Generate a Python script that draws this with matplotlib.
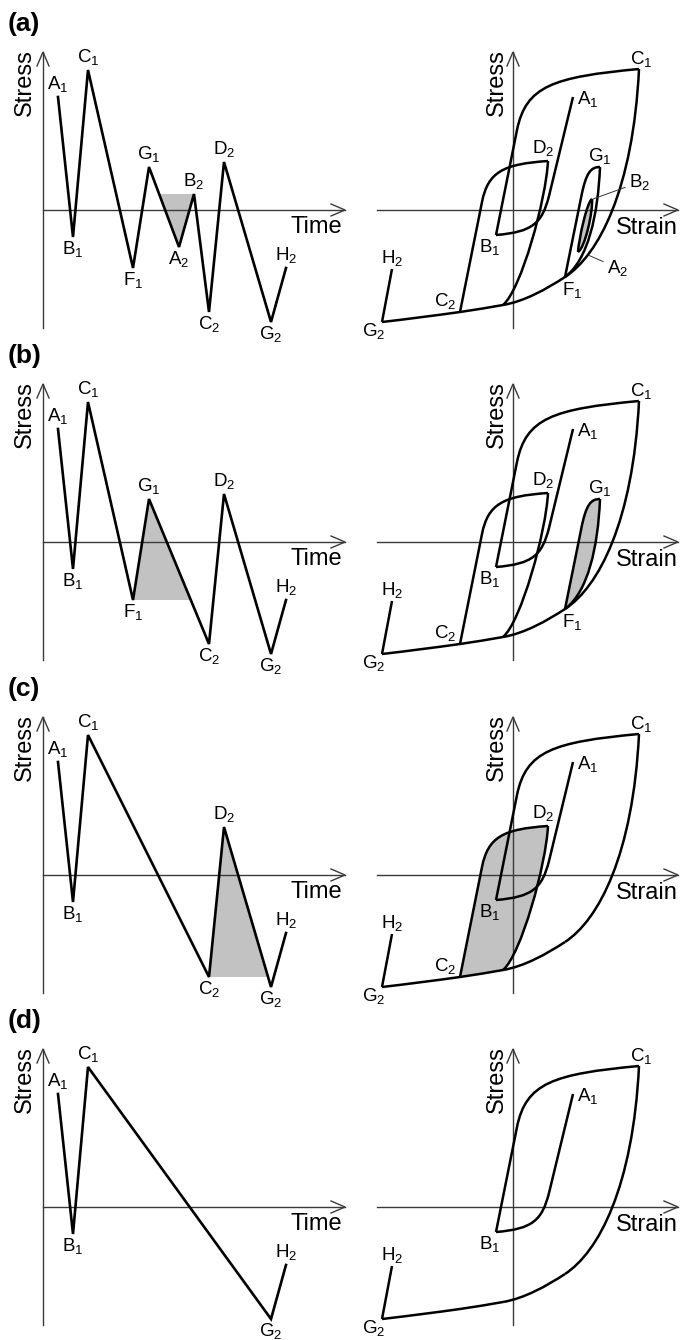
import numpy as np
import matplotlib.pyplot as plt
from matplotlib.path import Path
from matplotlib.patches import PathPatch, Polygon

plt.rcParams['font.family'] = 'Liberation Sans'
plt.rcParams['mathtext.fontset'] = 'custom'
plt.rcParams['mathtext.rm'] = 'Liberation Sans'
plt.rcParams['mathtext.it'] = 'Liberation Sans:italic'
plt.rcParams['mathtext.bf'] = 'Liberation Sans:bold'

# --- stress history: turning points (time, stress) in sketch units ---
point_names = ['A1', 'B1', 'C1', 'F1', 'G1', 'A2', 'B2', 'C2', 'D2', 'G2', 'H2']
point_time = [15, 30, 45, 90, 106, 136, 151, 166, 181, 228, 243]
point_stress = [113, -27, 140, -58, 43, -37, 16, -102, 48, -112, -58]

# turning points left in each step of the counting
seq_a = point_names
seq_b = ['A1', 'B1', 'C1', 'F1', 'G1', 'C2', 'D2', 'G2', 'H2']
seq_c = ['A1', 'B1', 'C1', 'C2', 'D2', 'G2', 'H2']
seq_d = ['A1', 'B1', 'C1', 'G2', 'H2']

# --- stress-strain plane: turning points (strain, stress) ---
hyst_names = ['A1', 'B1', 'C1', 'F1', 'G1', 'A2', 'B2', 'C2', 'D2', 'G2', 'H2']
hyst_strain = [60, -17, 126, 52, 87, 65, 79, -53, 35, -131, -121]
hyst_stress = [113, -25, 141, -67, 43, -42, 11, -102, 49, -112, -59]

# branches of the loops as bezier control points (strain, stress)
br_A1B1 = [(60, 113), (36, 14), (29, -13), (20, -22), (-17, -25)]
br_B1C1 = [(-17, -25), (4, 80), (13, 124), (40, 133), (126, 141)]
br_C1F1 = [(126, 141), (120, 20), (85.6, -45), (52, -67)]
br_F1M = [(52, -67), (33.5, -79), (11.7, -91.3), (-10, -95)]
br_MC2 = [(-10, -95), (-24, -97.4), (-39, -100), (-53, -102)]
br_C2G2 = [(-53, -102), (-78, -105.5), (-105, -109), (-131, -112)]
br_G2H2 = [(-131, -112), (-121, -59)]
br_F1G1 = [(52, -67), (68, 12), (73, 38), (78, 43), (87, 43)]
br_G1F1 = [(87, 43), (85, -5), (75, -50), (52, -67)]
br_A2B2 = [(65, -42), (66, -28), (74, 8), (79, 11)]
br_B2A2 = [(79, 11), (80, -2), (72, -38), (65, -42)]
br_C2D2 = [(-53, -102), (-31, 8), (-25, 38), (-10, 46), (35, 49)]
br_D2M = [(35, 49), (33, 10), (8, -80), (-10, -95)]

branches = {
    'A1B1': (br_A1B1, 'MLCCC'), 'B1C1': (br_B1C1, 'MLCCC'),
    'C1F1': (br_C1F1, 'MCCC'), 'F1M': (br_F1M, 'MCCC'),
    'MC2': (br_MC2, 'MCCC'), 'C2G2': (br_C2G2, 'MCCC'),
    'G2H2': (br_G2H2, 'ML'), 'F1G1': (br_F1G1, 'MLCCC'),
    'G1F1': (br_G1F1, 'MCCC'), 'A2B2': (br_A2B2, 'MCCC'),
    'B2A2': (br_B2A2, 'MCCC'), 'C2D2': (br_C2D2, 'MLCCC'),
    'D2M': (br_D2M, 'MCCC'),
}
outer = ['A1B1', 'B1C1', 'C1F1', 'F1M', 'MC2', 'C2G2', 'G2H2']
hyst_rows = [
    outer + ['F1G1', 'G1F1', 'A2B2', 'B2A2', 'C2D2', 'D2M'],
    outer + ['F1G1', 'G1F1', 'C2D2', 'D2M'],
    outer + ['C2D2', 'D2M'],
    outer,
]
hyst_shade = [['A2B2', 'B2A2'], ['F1G1', 'G1F1'], ['C2D2', 'D2M', 'MC2'], []]
hyst_labels = [
    hyst_names,
    ['A1', 'B1', 'C1', 'F1', 'G1', 'C2', 'D2', 'G2', 'H2'],
    ['A1', 'B1', 'C1', 'C2', 'D2', 'G2', 'H2'],
    ['A1', 'B1', 'C1', 'G2', 'H2'],
]
# shaded half cycles on the time plots: (polygon, cut segment start, end, level)
time_shade = [
    (['cut', 'A2', 'B2'], ('G1', 'A2', 'B2')),
    (['F1', 'G1', 'cut'], ('G1', 'C2', 'F1')),
    (['C2', 'D2', 'cut'], ('D2', 'G2', 'C2')),
    None,
]

hyst_label_off = {'C1': (2, 10), 'A1': (15, -2), 'D2': (-5, 13), 'G1': (0, 11),
                  'B2': (48, 17), 'A2': (40, -16), 'B1': (-6, -12), 'F1': (7, -13),
                  'C2': (-15, 11), 'H2': (0, 11), 'G2': (-8, -9)}

W, H = 681, 1340
fig = plt.figure(figsize=(W / 100, H / 100), dpi=100)
row_y = [210, 542, 875, 1207]
left_x, right_x = 43, 513
letters = ['(a)', '(b)', '(c)', '(d)']
seqs = [seq_a, seq_b, seq_c, seq_d]
shade_col = '#c2c2c2'
axis_col = '#3a3a3a'
lab_fs = 13.5

tp = dict(zip(point_names, zip(point_time, point_stress)))
hp = dict(zip(hyst_names, zip(hyst_strain, hyst_stress)))


def sub(name):
    return r'$\mathregular{%s_%s}$' % (name[0], name[1])


def panel_axes(ox, oy, xl, xr, yb, yt):
    ax = fig.add_axes([(ox + xl) / W, (H - oy + yb) / H, (xr - xl) / W, (yt - yb) / H])
    ax.set_xlim(xl, xr)
    ax.set_ylim(yb, yt)
    ax.axis('off')
    return ax


def arrow_axis(ax, x0, y0, x1, y1, L=14, hw=6):
    ax.plot([x0, x1], [y0, y1], color=axis_col, lw=1.0, clip_on=False)
    d = np.array([x1 - x0, y1 - y0], float)
    d /= np.hypot(*d)
    n = np.array([-d[1], d[0]])
    tip = np.array([x1, y1])
    a = tip - L * d + hw * n
    b = tip - L * d - hw * n
    ax.plot([a[0], tip[0], b[0]], [a[1], tip[1], b[1]], color=axis_col, lw=1.0,
            clip_on=False, solid_joinstyle='miter')


def branch_path(keys, close=False):
    verts, codes = [], []
    for i, k in enumerate(keys):
        pts, cs = branches[k]
        for j, (p, c) in enumerate(zip(pts, cs)):
            if j == 0 and i > 0:
                continue
            verts.append(p)
            codes.append({'M': Path.MOVETO, 'L': Path.LINETO, 'C': Path.CURVE4}[c])
    if close:
        verts.append(verts[0])
        codes.append(Path.CLOSEPOLY)
    return Path(verts, codes)


for r in range(4):
    oy = row_y[r]
    seq = seqs[r]

    # ---------- stress vs time ----------
    ax = panel_axes(left_x, oy, -43, 310, -130, 192)
    arrow_axis(ax, 0, -118, 0, 158)
    arrow_axis(ax, 0, 0, 302, 0)
    ax.text(-18, 127, 'Stress', rotation=90, fontsize=17, ha='center', va='center')
    ax.text(273, -17, 'Time', fontsize=17, ha='center', va='center')
    ax.text(-35, 186, letters[r], fontsize=19, fontweight='bold', ha='left', va='center')

    ts = [tp[n][0] for n in seq]
    ss = [tp[n][1] for n in seq]
    if time_shade[r] is not None:
        poly_names, (u, v, w) = time_shade[r]
        lev = tp[w][1]
        su, sv = tp[u][1], tp[v][1]
        tcut = tp[u][0] + (tp[v][0] - tp[u][0]) * (lev - su) / (sv - su)
        poly = [(tcut, lev) if n == 'cut' else tp[n] for n in poly_names]
        ax.add_patch(Polygon(poly, closed=True, facecolor=shade_col, edgecolor='none', zorder=1))
    ax.plot(ts, ss, color='k', lw=1.9, solid_joinstyle='miter', zorder=3, clip_on=False)

    for i, n in enumerate(seq):
        s = ss[i]
        nb = ss[i + 1] if i == 0 else ss[i - 1]
        dy = 13 if s > nb else -12
        ax.text(ts[i], s + dy, sub(n), fontsize=lab_fs, ha='center', va='center')

    # ---------- stress vs strain ----------
    ax = panel_axes(right_x, oy, -150, 168, -130, 192)
    arrow_axis(ax, 0, -118, 0, 158)
    arrow_axis(ax, -136, 0, 165, 0)
    ax.text(-16, 127, 'Stress', rotation=90, fontsize=17, ha='center', va='center')
    ax.text(134, -18, 'Strain', fontsize=17, ha='center', va='center')

    if hyst_shade[r]:
        ax.add_patch(PathPatch(branch_path(hyst_shade[r], close=True), facecolor=shade_col,
                               edgecolor='none', zorder=1))
    for k in hyst_rows[r]:
        ax.add_patch(PathPatch(branch_path([k]), fill=False, edgecolor='k', lw=1.8,
                               joinstyle='miter', capstyle='butt', zorder=3, clip_on=False))

    for n in hyst_labels[r]:
        x, y = hp[n]
        dx, dy = hyst_label_off[n]
        if n in ('A2', 'B2'):
            ax.annotate(sub(n), xy=(x + 1 if n == 'B2' else x + 10, y if n == 'B2' else y - 3),
                        xytext=(x + dx, y + dy), fontsize=lab_fs, ha='center', va='center',
                        arrowprops=dict(arrowstyle='-', lw=0.7, color='#333333',
                                        shrinkA=1, shrinkB=0))
        else:
            ax.text(x + dx, y + dy, sub(n), fontsize=lab_fs, ha='center', va='center')

fig.savefig('out.png', dpi=100, facecolor='white')
